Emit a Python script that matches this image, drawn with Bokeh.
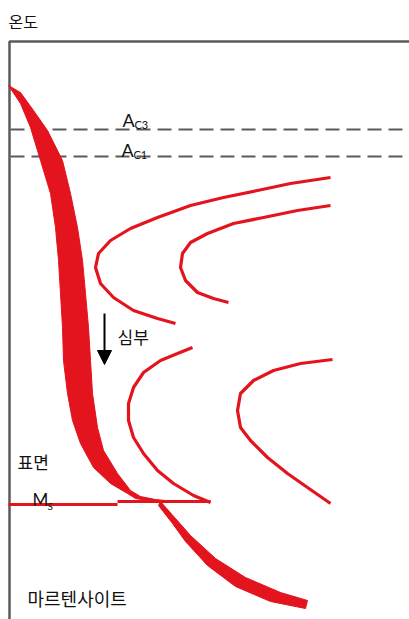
from bokeh.plotting import figure
from bokeh.models import Range1d, Arrow, NormalHead
from bokeh.core.properties import value
from bokeh.embed import file_html
from bokeh.resources import INLINE

RED = "#E3141E"
GRAY = "#5a5a5a"

# ---- data (pixel-like data units, y downward) ----
# thick cooling band (surface)
band_left_x = [8, 20, 30, 40, 50, 55, 58, 60, 62, 63, 67, 72, 80, 93, 110, 127, 135, 160]
band_left_y = [85, 103, 127, 160, 193, 227, 260, 293, 327, 360, 393, 420, 443, 467, 483, 493, 498, 502]
band_right_x = [8, 20, 33, 47, 62, 70, 77, 82, 85, 88, 90, 92, 97, 103, 117, 130, 140, 155, 165]
band_right_y = [85, 92, 110, 130, 160, 193, 227, 260, 293, 327, 360, 393, 427, 450, 473, 490, 496, 499, 500]

# tail below Ms
tail_upper_x = [160, 175, 190, 215, 245, 280, 307]
tail_upper_y = [501, 518, 535, 558, 577, 592, 600]
tail_lower_x = [158, 172, 185, 207, 235, 270, 305]
tail_lower_y = [505, 523, 541, 565, 586, 601, 608]

# upper outer C-curve
c1_x = [330, 290, 257, 223, 190, 157, 130, 110, 98, 95, 100, 113, 133, 157, 175]
c1_y = [177, 183, 190, 197, 205, 217, 228, 240, 253, 267, 283, 297, 310, 318, 323]
# upper inner C-curve
c2_x = [330, 297, 263, 233, 207, 190, 182, 180, 185, 197, 213, 228]
c2_y = [205, 210, 217, 223, 233, 242, 253, 267, 280, 292, 298, 302]
# lower outer C-curve
c3_x = [192, 177, 160, 143, 133, 128, 128, 133, 143, 157, 173, 193, 210]
c3_y = [347, 353, 360, 372, 387, 403, 420, 437, 453, 470, 483, 495, 502]
# lower inner C-curve
c4_x = [332, 300, 273, 253, 240, 237, 240, 250, 267, 287, 307, 330]
c4_y = [359, 363, 370, 380, 393, 410, 427, 440, 457, 473, 487, 503]

# Ms line (two steps)
ms1_x = [8, 117]
ms1_y = [504, 504]
ms2_x = [117, 210]
ms2_y = [501, 501]

# frame
frame_x = [9, 9, 409]
frame_y = [619, 41, 41]

# critical temperatures
ac3_y = 129
ac1_y = 156
dash_x = [10, 409]

p = figure(width=409, height=619, x_range=Range1d(0, 409), y_range=Range1d(619, 0),
           output_backend="svg", toolbar_location=None, min_border=0)
p.axis.visible = False
p.grid.visible = False
p.outline_line_color = None
p.background_fill_color = "white"

# frame
p.line(frame_x, frame_y, line_color=GRAY, line_width=2.5)

# dashed lines
p.line(dash_x, [ac3_y, ac3_y], line_color=GRAY, line_width=2, line_dash="14 7")
p.line(dash_x, [ac1_y, ac1_y], line_color=GRAY, line_width=2, line_dash="14 7")

# band
p.patch(band_left_x + band_right_x[::-1], band_left_y + band_right_y[::-1],
        fill_color=RED, line_color=RED, line_width=1)
# tail
p.patch(tail_upper_x + tail_lower_x[::-1], tail_upper_y + tail_lower_y[::-1],
        fill_color=RED, line_color=RED, line_width=1)

# C-curves
for cx, cy in [(c1_x, c1_y), (c2_x, c2_y), (c3_x, c3_y), (c4_x, c4_y)]:
    p.line(cx, cy, line_color=RED, line_width=3.2, line_join="round")

# Ms line
p.line(ms1_x, ms1_y, line_color=RED, line_width=3)
p.line(ms2_x, ms2_y, line_color=RED, line_width=3)

# arrow
p.add_layout(Arrow(end=NormalHead(size=14, fill_color="black", line_color="black"),
                   x_start=104, y_start=313, x_end=104, y_end=364,
                   line_color="black", line_width=2))

KR = value("Noto Sans CJK KR")
LAT = value("Lato")

p.text([8], [20], text=["온도"], text_font=KR, text_font_size="16px",
       text_align="left", text_baseline="middle", text_color="#111")
p.text([117], [336], text=["심부"], text_font=KR, text_font_size="17px",
       text_align="left", text_baseline="middle", text_color="#111")
p.text([17], [461], text=["표면"], text_font=KR, text_font_size="17px",
       text_align="left", text_baseline="middle", text_color="#111")
p.text([27], [597], text=["마르텐사이트"], text_font=KR, text_font_size="18px",
       text_align="left", text_baseline="middle", text_color="#111")

# A_C3, A_C1, M_S
p.text([122, 121], [119, 149], text=["A", "A"], text_font=LAT, text_font_size="18px",
       text_align="left", text_baseline="alphabetic", text_color="#111")
p.text([134, 133], [124, 154], text=["C3", "C1"], text_font=LAT, text_font_size="11px",
       text_align="left", text_baseline="alphabetic", text_color="#111")
p.text([32], [499], text=["M"], text_font=LAT, text_font_size="17px",
       text_align="left", text_baseline="alphabetic", text_color="#111")
p.text([47], [505], text=["S"], text_font=LAT, text_font_size="10px",
       text_align="left", text_baseline="alphabetic", text_color="#111")

open("out.html", "w").write(file_html(p, INLINE))
